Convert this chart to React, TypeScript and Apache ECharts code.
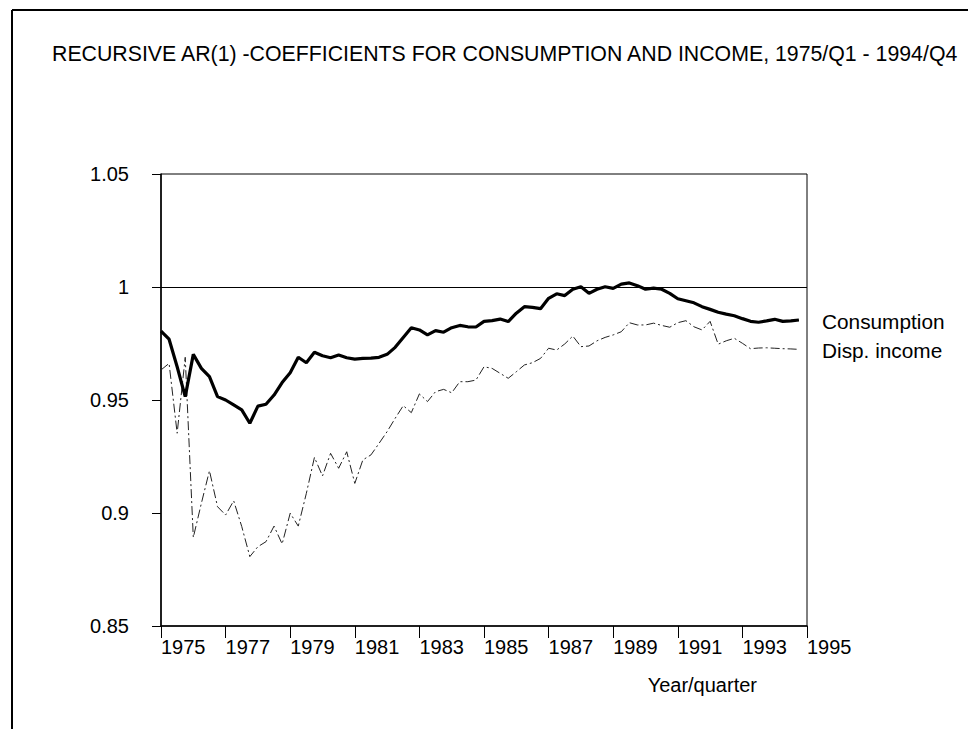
import React, { useEffect, useRef } from "react";
import * as echarts from "echarts";

const TITLE = "RECURSIVE AR(1) -COEFFICIENTS FOR CONSUMPTION AND INCOME, 1975/Q1 - 1994/Q4";
const X_NAME = "Year/quarter";
const SERIES_NAMES = ["Consumption", "Disp. income"];
const START_YEAR = 1975;

const consumption = [
  0.9805, 0.9769, 0.9647, 0.9515,
  0.9702, 0.964, 0.9603, 0.9515,
  0.95, 0.9478, 0.9456, 0.9397,
  0.9473, 0.9481, 0.9522, 0.9577,
  0.9621, 0.9689, 0.9665, 0.9711,
  0.9696, 0.9687, 0.9699, 0.9687,
  0.9681, 0.9684, 0.9685, 0.9689,
  0.9702, 0.9733, 0.9777, 0.982,
  0.981, 0.9788, 0.9807, 0.98,
  0.982, 0.983, 0.9824, 0.9823,
  0.9848, 0.9851, 0.9858, 0.9847,
  0.9884, 0.9913, 0.991, 0.9904,
  0.995, 0.997, 0.9962, 0.999,
  1.0001, 0.9972, 0.999, 1.0001,
  0.9994, 1.0013, 1.0018, 1.0006,
  0.999, 0.9995, 0.999, 0.9972,
  0.9948, 0.9939, 0.993, 0.9913,
  0.9901, 0.9888, 0.988, 0.9873,
  0.986, 0.9848, 0.9844, 0.985,
  0.9857, 0.9848, 0.985, 0.9854,
];

const dispIncome = [
  0.9633, 0.9662, 0.9353, 0.9689,
  0.8892, 0.9043, 0.9187, 0.9028,
  0.8991, 0.9054, 0.894, 0.8807,
  0.8851, 0.8873, 0.8942, 0.8863,
  0.8999, 0.8942, 0.9087, 0.9246,
  0.9164, 0.9264, 0.9198, 0.9271,
  0.9131, 0.9235, 0.9257, 0.9308,
  0.936, 0.9419, 0.9475, 0.9444,
  0.9527, 0.9493, 0.9537, 0.9547,
  0.9532, 0.9581, 0.9581, 0.9588,
  0.9647, 0.964, 0.9618, 0.9596,
  0.9625, 0.9655, 0.9665, 0.9684,
  0.9729, 0.9721, 0.9748, 0.9783,
  0.9736, 0.9739, 0.9762, 0.9777,
  0.9788, 0.9802, 0.9842, 0.9832,
  0.9832, 0.984, 0.983, 0.9822,
  0.9842, 0.9851, 0.9824, 0.981,
  0.9848, 0.9747, 0.9762, 0.9773,
  0.9751, 0.9727, 0.973, 0.9731,
  0.9729, 0.9727, 0.9726, 0.9724,
];

const X_MIN = 1975;
const X_MAX = 1995;
const X_STEP = 2;
const Y_MIN = 0.85;
const Y_MAX = 1.05;
const Y_STEP = 0.05;
const REFERENCE_LEVEL = 1;

const FONT = "'Liberation Sans', Arial, Helvetica, sans-serif";

function toPoints(values: number[]) {
  return values.map((v, i) => [START_YEAR + i / 4, v]);
}

export default function App() {
  const ref = useRef<HTMLDivElement>(null);
  useEffect(() => {
    if (!ref.current) return;
    const chart = echarts.init(ref.current, undefined, { renderer: "svg" });
    chart.setOption({
      animation: false,
      backgroundColor: "#ffffff",
      textStyle: { fontFamily: FONT },
      grid: {
        left: 161,
        top: 174,
        width: 646,
        height: 452,
        show: true,
        borderColor: "#000",
        borderWidth: 1,
        backgroundColor: "transparent",
      },
      xAxis: {
        type: "value",
        min: X_MIN,
        max: X_MAX,
        interval: X_STEP,
        splitLine: { show: false },
        axisLine: { show: true, lineStyle: { color: "#000", width: 1.5 } },
        axisTick: { show: true, inside: false, length: 12, lineStyle: { color: "#000", width: 1 } },
        axisLabel: {
          color: "#000",
          fontSize: 20,
          fontFamily: FONT,
          align: "left",
          margin: 11,
          formatter: (v: number) => String(Math.round(v)),
        },
      },
      yAxis: {
        type: "value",
        min: Y_MIN,
        max: Y_MAX,
        interval: Y_STEP,
        splitLine: { show: false },
        axisLine: { show: true, lineStyle: { color: "#000", width: 1.5 } },
        axisTick: { show: true, inside: false, length: 9, lineStyle: { color: "#000", width: 1 } },
        axisLabel: {
          color: "#000",
          fontSize: 20,
          fontFamily: FONT,
          margin: 32,
          formatter: (v: number) => String(parseFloat(v.toFixed(2))),
        },
      },
      series: [
        {
          name: SERIES_NAMES[0],
          type: "line",
          data: toPoints(consumption),
          showSymbol: false,
          symbol: "none",
          lineStyle: { color: "#000", width: 3.2 },
          z: 3,
          markLine: {
            silent: true,
            symbol: "none",
            label: { show: false },
            lineStyle: { color: "#000", width: 1, type: "solid" },
            data: [{ yAxis: REFERENCE_LEVEL }],
          },
        },
        {
          name: SERIES_NAMES[1],
          type: "line",
          data: toPoints(dispIncome),
          showSymbol: false,
          symbol: "none",
          lineStyle: { color: "#222", width: 1, type: [9, 3, 2, 3] },
          z: 2,
        },
      ],
      graphic: [
        {
          type: "line",
          shape: { x1: 12, y1: 10, x2: 12, y2: 729 },
          style: { stroke: "#000", lineWidth: 2 },
        },
        {
          type: "line",
          shape: { x1: 12, y1: 10, x2: 968, y2: 10 },
          style: { stroke: "#000", lineWidth: 2 },
        },
        {
          type: "text",
          x: 52,
          y: 54,
          style: {
            text: TITLE,
            fill: "#000",
            fontSize: 21.3,
            fontFamily: FONT,
            verticalAlign: "middle",
            align: "left",
          },
        },
        {
          type: "text",
          x: 822,
          y: 321,
          style: {
            text: SERIES_NAMES[0],
            fill: "#000",
            fontSize: 20.8,
            fontFamily: FONT,
            verticalAlign: "middle",
          },
        },
        {
          type: "text",
          x: 822,
          y: 350,
          style: {
            text: SERIES_NAMES[1],
            fill: "#000",
            fontSize: 20.8,
            fontFamily: FONT,
            verticalAlign: "middle",
          },
        },
        {
          type: "text",
          x: 757,
          y: 685,
          style: {
            text: X_NAME,
            fill: "#000",
            fontSize: 20,
            fontFamily: FONT,
            verticalAlign: "middle",
            align: "right",
          },
        },
      ],
    });
    return () => chart.dispose();
  }, []);
  return (
    <div
      ref={ref}
      style={{ position: "absolute", left: 0, top: 0, width: 968, height: 729, background: "#fff" }}
    />
  );
}
